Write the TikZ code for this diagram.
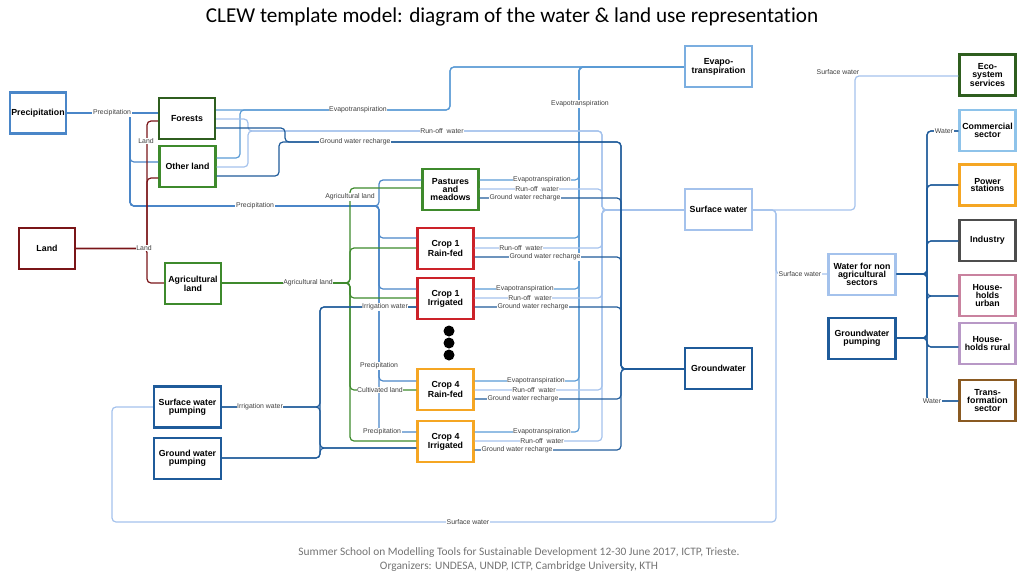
\documentclass[tikz,border=0pt]{standalone}
\usepackage{fontspec}
\setmainfont{Liberation Sans}
\newfontfamily\slidefont[Ligatures=NoCommon]{Carlito}
\definecolor{precblue}{HTML}{4A86C8}
\definecolor{evapline}{HTML}{5B9BD5}
\definecolor{evapblue}{HTML}{7BAEE0}
\definecolor{swblue}{HTML}{A4C2EC}
\definecolor{gwblue}{HTML}{1F5B9A}
\definecolor{commblue}{HTML}{8EC3EA}
\definecolor{forestgrn}{HTML}{2F5E1F}
\definecolor{landgrn}{HTML}{3E8A2C}
\definecolor{landred}{HTML}{7A1518}
\definecolor{crop1red}{HTML}{CC2229}
\definecolor{crop4org}{HTML}{F5A623}
\definecolor{indgray}{HTML}{4D4D4D}
\definecolor{hhpink}{HTML}{C9829F}
\definecolor{hhlilac}{HTML}{B898C6}
\definecolor{transbrn}{HTML}{8A5A22}
% x positions of the vertical buses (picture is laid out in pixels)
\newcommand\precbx{130}
\newcommand\landbx{147}
\newcommand\irrx{320}
\newcommand\agrx{350}
\newcommand\precx{379}
\newcommand\evapx{579}
\newcommand\runx{602}
\newcommand\rechx{621}
\newcommand\swx{776}
\newcommand\wbusx{927}

\begin{document}
\begin{tikzpicture}[
    x=1pt,y=-1pt,
    box/.style={draw=#1,line width=2.2pt,fill=white,align=center,inner sep=1pt,
      minimum width=56pt,minimum height=41pt,
      font=\bfseries\fontsize{8.8}{7.9}\selectfont},
    wide/.style={minimum width=67pt},
    lbl/.style={fill=white,inner sep=0.6pt,text=black!75,
      font=\fontsize{6.9}{6.9}\selectfont},
    conn/.style={draw=#1,line width=1.2pt,rounded corners=4pt}
  ]
    \useasboundingbox (0,0) rectangle (1024,576);

    \node[font=\slidefont\fontsize{21.2}{21.2}\selectfont] (title) at (512,17)
      {CLEW template model: diagram of the water \& land use representation};

    % sources and land classes
    \node[box=precblue] (prec) at (38,113) {Precipitation};
    \node[box=forestgrn] (forests) at (187,118.5) {Forests};
    \node[box=landgrn] (otherland) at (187.5,166.5) {Other land};
    \node[box=landred] (land) at (47,248.5) {Land};
    \node[box=landgrn] (agrland) at (193,283.5) {Agricultural\\land};
    \node[box=gwblue,wide] (swpump) at (187.5,407) {Surface water\\pumping};
    \node[box=gwblue,wide] (gwpump) at (187.5,458.5) {Ground water\\pumping};

    % crops
    \node[box=landgrn] (pastures) at (450.5,189.5) {Pastures\\and\\meadows};
    \node[box=crop1red] (crop1rf) at (445.5,248.5) {Crop 1\\Rain-fed};
    \node[box=crop1red] (crop1irr) at (445.5,298.5) {Crop 1\\Irrigated};
    \node[box=crop4org] (crop4rf) at (445.5,389.5) {Crop 4\\Rain-fed};
    \node[box=crop4org] (crop4irr) at (445.5,441.5) {Crop 4\\Irrigated};
    \foreach \yy in {331,343,355}
      \fill (449,\yy) circle[radius=5.5pt];

    % water balance
    \node[box=evapblue,wide] (evapo) at (718.5,66.5) {Evapo-\\transpiration};
    \node[box=swblue,wide] (surfw) at (718.5,209.5) {Surface water};
    \node[box=gwblue,wide] (groundw) at (718.5,368.5) {Groundwater};

    % other sectors
    \node[box=swblue,wide] (nonagr) at (862,274.5) {Water for non\\agricultural\\sectors};
    \node[box=gwblue,wide] (gwpumpr) at (862,338.5) {Groundwater\\pumping};
    \node[box=forestgrn] (ecosys) at (987.5,75) {Eco-\\system\\services};
    \node[box=commblue] (commerc) at (987.5,130.5) {Commercial\\sector};
    \node[box=crop4org] (powerst) at (987.5,185) {Power\\stations};
    \node[box=indgray] (industry) at (987.5,240.5) {Industry};
    \node[box=hhpink] (hhurban) at (987.5,295.5) {House-\\holds\\urban};
    \node[box=hhlilac] (hhrural) at (987.5,343.5) {House-\\holds rural};
    \node[box=transbrn] (transf) at (987.5,400.5) {Trans-\\formation\\sector};

    % precipitation
    \draw[conn=precblue] (prec.east) -- (forests.west |- prec.east);
    \draw[conn=precblue] (prec.east) -- (\precbx,113) -- (\precbx,162) -- (otherland.west |- 0,162);
    \foreach \crop/\yy in {pastures/180,crop1rf/238,crop1irr/289,crop4rf/381,crop4irr/432}
      \draw[conn=precblue] (prec.east) -- (\precbx,113) -- (\precbx,206)
        -- (\precx,206) -- (\precx,\yy) -- (\crop.west |- 0,\yy);

    % land
    \foreach \tgt/\yy in {forests/121,otherland/178,agrland/283}
      \draw[conn=landred] (land.east) -- (\landbx,248.5) -- (\landbx,\yy) -- (\tgt.west |- 0,\yy);
    \foreach \crop/\yy in {pastures/188,crop1rf/248,crop1irr/298,crop4rf/390,crop4irr/441}
      \draw[conn=landgrn] (agrland.east |- 0,283) -- (\agrx,283) -- (\agrx,\yy) -- (\crop.west |- 0,\yy);

    % evapotranspiration
    \draw[conn=evapline] (forests.east |- 0,110) -- (450,110) -- (450,67) -- (evapo.west |- 0,67);
    \draw[conn=evapline] (otherland.east |- 0,158) -- (240,158) -- (240,110)
      -- (450,110) -- (450,67) -- (evapo.west |- 0,67);
    \foreach \crop/\yy in {pastures/180,crop1rf/238,crop1irr/289,crop4rf/381,crop4irr/432}
      \draw[conn=evapline] (\crop.east |- 0,\yy) -- (\evapx,\yy) -- (\evapx,67) -- (evapo.west |- 0,67);

    % run-off
    \draw[conn=swblue] (forests.east |- 0,119) -- (248,119) -- (248,131)
      -- (\runx,131) -- (\runx,210) -- (surfw.west |- 0,210);
    \draw[conn=swblue] (otherland.east |- 0,167) -- (248,167) -- (248,131)
      -- (\runx,131) -- (\runx,210) -- (surfw.west |- 0,210);
    \foreach \crop/\yy in {pastures/189,crop1rf/248,crop1irr/298,crop4rf/390,crop4irr/441}
      \draw[conn=swblue] (\crop.east |- 0,\yy) -- (\runx,\yy) -- (\runx,210) -- (surfw.west |- 0,210);

    % ground water recharge
    \draw[conn=gwblue] (forests.east |- 0,128) -- (285,128) -- (285,142)
      -- (\rechx,142) -- (\rechx,369) -- (groundw.west |- 0,369);
    \draw[conn=gwblue] (otherland.east |- 0,176) -- (279,176) -- (279,142)
      -- (\rechx,142) -- (\rechx,369) -- (groundw.west |- 0,369);
    \foreach \crop/\yy in {pastures/198,crop1rf/257,crop1irr/307,crop4rf/399,crop4irr/450}
      \draw[conn=gwblue] (\crop.east |- 0,\yy) -- (\rechx,\yy) -- (\rechx,369) -- (groundw.west |- 0,369);

    % irrigation
    \foreach \pump/\py in {swpump/407,gwpump/458}
      \foreach \crop/\yy in {crop1irr/307,crop4irr/448}
        \draw[conn=gwblue] (\pump.east |- 0,\py) -- (\irrx,\py) -- (\irrx,\yy) -- (\crop.west |- 0,\yy);

    % surface water
    \draw[conn=swblue] (swpump.west) -- (112,407) -- (112,522) -- (\swx,522) -- (\swx,210) -- (surfw.east |- 0,210);
    \draw[conn=swblue] (surfw.east |- 0,210) -- (855,210) -- (855,76) -- (ecosys.west |- 0,76);
    \draw[conn=swblue] (surfw.east |- 0,210) -- (\swx,210) -- (\swx,274) -- (nonagr.west |- 0,274);

    % water for the other sectors
    \foreach \src/\sy in {nonagr/274,gwpumpr/338}
      \foreach \sect/\yy in {commerc/131,powerst/185,industry/241,hhurban/296,hhrural/347,transf/401}
        \draw[conn=gwblue] (\src.east |- 0,\sy) -- (\wbusx,\sy) -- (\wbusx,\yy) -- (\sect.west |- 0,\yy);

    % labels
    \foreach \lx/\ly [count=\i] in {112/113,255/206,379/366,382/432}
      \node[lbl] (precl\i) at (\lx,\ly) {Precipitation};
    \foreach \lx/\ly [count=\i] in {144/248,146/141}
      \node[lbl] (landl\i) at (\lx,\ly) {Land};
    \foreach \lx/\ly [count=\i] in {308/283,350/197}
      \node[lbl] (agrl\i) at (\lx,\ly) {Agricultural land};
    \node[lbl] (cultl) at (380,390) {Cultivated land};
    \foreach \lx/\ly [count=\i] in {358/110,580/104,542/180,525/289,536/381,542/432}
      \node[lbl] (evapl\i) at (\lx,\ly) {Evapotranspiration};
    \foreach \lx/\ly [count=\i] in {442/131,537/189,521/248,530/298,534/390,542/441}
      \node[lbl] (runl\i) at (\lx,\ly) {Run-off\ \ water};
    \foreach \lx/\ly [count=\i] in {355/142,525/198,545/257,533/307,523/399,517/450}
      \node[lbl] (rechl\i) at (\lx,\ly) {Ground water recharge};
    \foreach \lx/\ly [count=\i] in {260/407,385/307}
      \node[lbl] (irrl\i) at (\lx,\ly) {Irrigation water};
    \foreach \lx/\ly [count=\i] in {468/522,838/72,800/274}
      \node[lbl] (swl\i) at (\lx,\ly) {Surface water};
    \foreach \lx/\ly [count=\i] in {944/131,932/401}
      \node[lbl] (waterl\i) at (\lx,\ly) {Water};

    \node[font=\slidefont\fontsize{11.4}{14}\selectfont,text=black!55,align=center] (footer) at (519,560)
      {Summer School on Modelling Tools for Sustainable Development 12-30 June 2017, ICTP, Trieste.\\
       Organizers: UNDESA, UNDP, ICTP, Cambridge University, KTH};
  \end{tikzpicture}
\end{document}
